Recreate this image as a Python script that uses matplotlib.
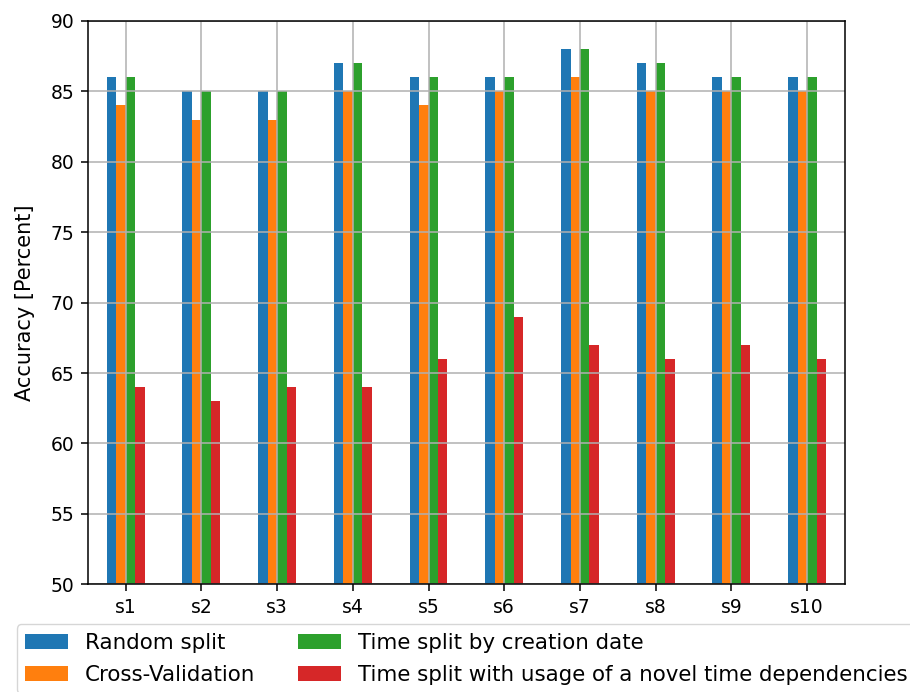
import pandas as pd
import matplotlib
matplotlib.use("Agg")
import matplotlib.pyplot as plt

# accuracy per subset for each way of splitting the data
subsets = ["s1", "s2", "s3", "s4", "s5", "s6", "s7", "s8", "s9", "s10"]
random_split = [86, 85, 85, 87, 86, 86, 88, 87, 86, 86]
cross_validation = [84, 83, 83, 85, 84, 85, 86, 85, 85, 85]
time_split = [86, 85, 85, 87, 86, 86, 88, 87, 86, 86]
time_split_novel = [64, 63, 64, 64, 66, 69, 67, 66, 67, 66]

df = pd.DataFrame({
    "Random split": random_split,
    "Cross-Validation": cross_validation,
    "Time split by creation date": time_split,
    "Time split with usage of a novel time dependencies": time_split_novel,
}, index=subsets)

plt.rcParams["axes.linewidth"] = 1.1
plt.rcParams["grid.linewidth"] = 1.1

fig = plt.figure(figsize=(9.1, 6.92), dpi=100)
ax = fig.add_axes([0.0964, 0.1556, 0.8322, 0.8141])
df.plot(kind="bar", ax=ax, legend=False, rot=0)

ax.set_ylim(50, 90)
ax.set_ylabel("Accuracy [Percent]", fontsize=15, labelpad=11)
ax.tick_params(labelsize=13.5, length=4.8, width=1.1, pad=4.8)
ax.grid(True)

ax.legend(loc="upper center", bbox_to_anchor=(0.5, -0.052), ncol=2,
          fontsize=15.4, labelspacing=0.55)

fig.savefig("out.png", dpi=100)
